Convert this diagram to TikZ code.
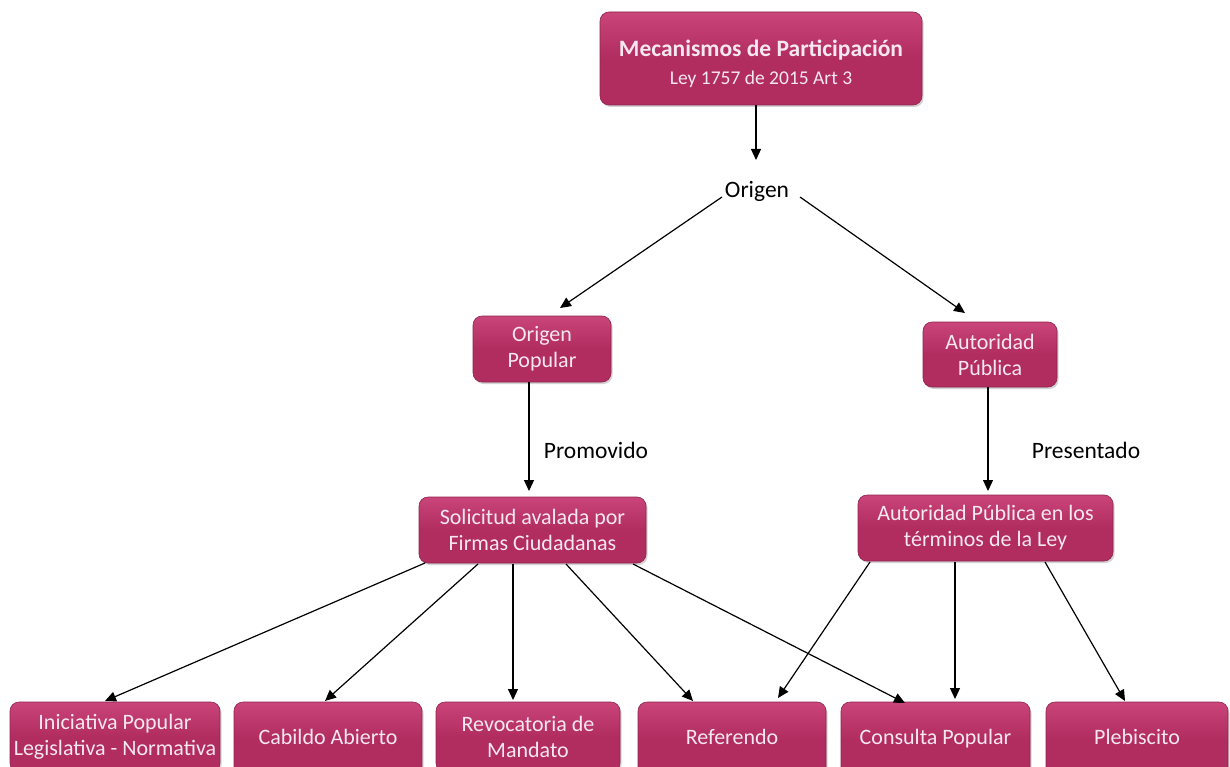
\documentclass[tikz,border=0pt]{standalone}
\usepackage{fontspec}
\setmainfont{Carlito}
\usetikzlibrary{shadows,arrows.meta}
\definecolor{mag}{HTML}{B12C5F}
\definecolor{magtop}{HTML}{C9457A}
\definecolor{txt}{HTML}{F7E8F0}
\tikzset{
  mbox/.style={draw=mag!80!black, line width=0.6pt, rounded corners=9pt,
    top color=magtop, bottom color=mag, middle color=mag,
    drop shadow={shadow xshift=1.5pt, shadow yshift=-2pt, opacity=0.35},
    text=txt, align=center, font=\fontsize{22}{26}\selectfont, inner sep=0pt},
  arr/.style={-{Triangle[length=11pt,width=10pt]}, line width=1.2pt, black},
  lbl/.style={font=\fontsize{23.5}{26}\selectfont, text=black}
}
\newcommand{\boxat}[6]{% name, x1,y1,x2,y2, text
  \node[mbox, minimum width={#4-#2}, minimum height={#5-#3}] (#1) at ({(#2+#4)/2},{(#3+#5)/2}) {#6};}
\begin{document}
\begin{tikzpicture}[x=1pt,y=-1pt]
\useasboundingbox (0,0) rectangle (1230,767);
\fill[white] (0,0) rectangle (1230,767);
\begin{scope}
\clip (0,0) rectangle (1230,767);
\boxat{top}{600}{12}{922}{105}{}
\node[text=txt, align=center, inner sep=0pt, font=\fontsize{19.5}{28}\selectfont] (toptxt) at (761,64) {{\fontsize{23.5}{28}\selectfont\bfseries Mecanismos de Participación}\\Ley 1757 de 2015 Art 3};
\node[lbl] (orig) at (757,191) {Origen};
\boxat{op}{473}{316}{611}{382}{Origen\\Popular}
\boxat{ap}{923}{322}{1057}{387}{Autoridad\\Pública}
\boxat{sol}{419}{497}{646}{563}{Solicitud avalada por\\Firmas Ciudadanas}
\boxat{apl}{858}{495}{1113}{561}{Autoridad Pública en los\\términos de la Ley}
\boxat{b1}{10}{702}{220}{772}{Iniciativa Popular\\Legislativa - Normativa}
\boxat{b2}{234}{702}{422}{776}{Cabildo Abierto\vphantom{p}}
\boxat{b3}{436}{702}{620}{772}{Revocatoria de\\Mandato}
\boxat{b4}{638}{702}{826}{776}{Referendo\vphantom{p}}
\boxat{b5}{841}{702}{1030}{776}{Consulta Popular}
\boxat{b6}{1046}{702}{1228}{776}{Plebiscito\vphantom{p}}
\end{scope}
\coordinate (t1) at (756,160);
\draw[arr] (top.south -| t1) -- (t1);
\draw[arr] (722,197) -- (560,308);
\draw[arr] (800,197) -- (965,313);
\draw[arr] (op.south -| 529,0) -- (529,491);
\node[lbl] (promo) at (596,450) {Promovido};
\draw[arr] (ap.south -| 988,0) -- (988,491);
\node[lbl] (pres) at (1086,450) {Presentado};
\draw[arr] (425,563) -- (105,701);
\draw[arr] (478,564) -- (325,701);
\draw[arr] (513,564) -- (513,700);
\draw[arr] (566,564) -- (693,701);
\draw[arr] (633,564) -- (905,703);
\draw[arr] (870,562) -- (778,698);
\draw[arr] (955,562) -- (955,699);
\draw[arr] (1045,562) -- (1125,701);
\end{tikzpicture}
\end{document}
